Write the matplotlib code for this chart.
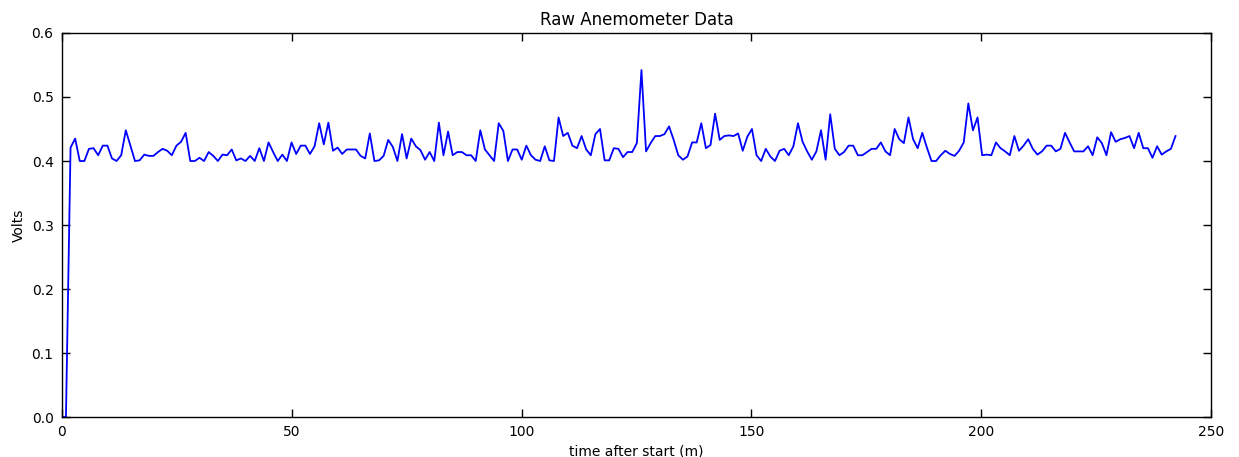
import numpy as np
import matplotlib
matplotlib.use("Agg")
import matplotlib.pyplot as plt

# anemometer readings (volts), one per sample; first two samples before sensor settled
volts = [
    0.000, 0.000, 0.421, 0.435, 0.400, 0.400, 0.419, 0.420, 0.409, 0.424,
    0.424, 0.404, 0.400, 0.409, 0.448, 0.424, 0.400, 0.401, 0.410, 0.408,
    0.408, 0.414, 0.419, 0.416, 0.409, 0.424, 0.430, 0.444, 0.400, 0.400,
    0.405, 0.400, 0.414, 0.408, 0.400, 0.410, 0.409, 0.418, 0.401, 0.404,
    0.400, 0.408, 0.400, 0.420, 0.400, 0.429, 0.414, 0.400, 0.410, 0.400,
    0.429, 0.411, 0.424, 0.424, 0.411, 0.423, 0.459, 0.426, 0.460, 0.416,
    0.421, 0.411, 0.418, 0.418, 0.418, 0.408, 0.404, 0.443, 0.400, 0.401,
    0.408, 0.433, 0.422, 0.400, 0.442, 0.404, 0.435, 0.423, 0.417, 0.402,
    0.414, 0.400, 0.460, 0.409, 0.446, 0.409, 0.414, 0.414, 0.409, 0.409,
    0.400, 0.448, 0.418, 0.409, 0.400, 0.459, 0.447, 0.400, 0.418, 0.418,
    0.402, 0.424, 0.409, 0.402, 0.400, 0.423, 0.401, 0.400, 0.468, 0.439,
    0.444, 0.424, 0.420, 0.439, 0.418, 0.409, 0.442, 0.450, 0.401, 0.401,
    0.420, 0.419, 0.406, 0.414, 0.414, 0.428, 0.542, 0.415, 0.428, 0.439,
    0.439, 0.442, 0.454, 0.433, 0.409, 0.402, 0.407, 0.429, 0.429, 0.459,
    0.420, 0.425, 0.474, 0.433, 0.439, 0.440, 0.439, 0.443, 0.416, 0.438,
    0.450, 0.409, 0.400, 0.419, 0.407, 0.400, 0.416, 0.419, 0.409, 0.423,
    0.459, 0.430, 0.415, 0.402, 0.415, 0.448, 0.402, 0.473, 0.419, 0.409,
    0.414, 0.424, 0.424, 0.409, 0.409, 0.414, 0.419, 0.419, 0.429, 0.415,
    0.409, 0.450, 0.434, 0.428, 0.468, 0.434, 0.420, 0.444, 0.421, 0.400,
    0.400, 0.409, 0.416, 0.411, 0.408, 0.416, 0.429, 0.490, 0.448, 0.468,
    0.409, 0.410, 0.409, 0.429, 0.420, 0.415, 0.409, 0.439, 0.416, 0.424,
    0.434, 0.419, 0.410, 0.415, 0.424, 0.424, 0.415, 0.419, 0.444, 0.429,
    0.415, 0.415, 0.415, 0.423, 0.409, 0.437, 0.428, 0.409, 0.445, 0.430,
    0.434, 0.436, 0.439, 0.420, 0.444, 0.420, 0.420, 0.405, 0.423, 0.410,
    0.415, 0.419, 0.439,
]

# sample times in minutes after start
first_sample = 0.87
sample_interval = 1.0017
times = np.concatenate([[0.0], first_sample + sample_interval * np.arange(len(volts) - 1)])

fig = plt.figure(figsize=(12.39, 4.57), dpi=100)
ax = fig.add_axes([0.050, 0.0875, 0.9274, 0.8403])

ax.plot(times, volts, color="#0000ff", linewidth=1.3)

ax.set_xlim(0, 250)
ax.set_ylim(0, 0.6)
ax.set_xticks([0, 50, 100, 150, 200, 250])
ax.set_yticks([0.0, 0.1, 0.2, 0.3, 0.4, 0.5, 0.6])
ax.set_yticklabels(["0.0", "0.1", "0.2", "0.3", "0.4", "0.5", "0.6"])
ax.tick_params(direction="in", top=True, right=True, length=6, width=1, labelsize=10, pad=6)
for spine in ax.spines.values():
    spine.set_linewidth(1.0)

ax.set_title("Raw Anemometer Data", fontsize=12)
ax.set_xlabel("time after start (m)", fontsize=10)
ax.set_ylabel("Volts", fontsize=10)

fig.savefig("out.png", dpi=100)
